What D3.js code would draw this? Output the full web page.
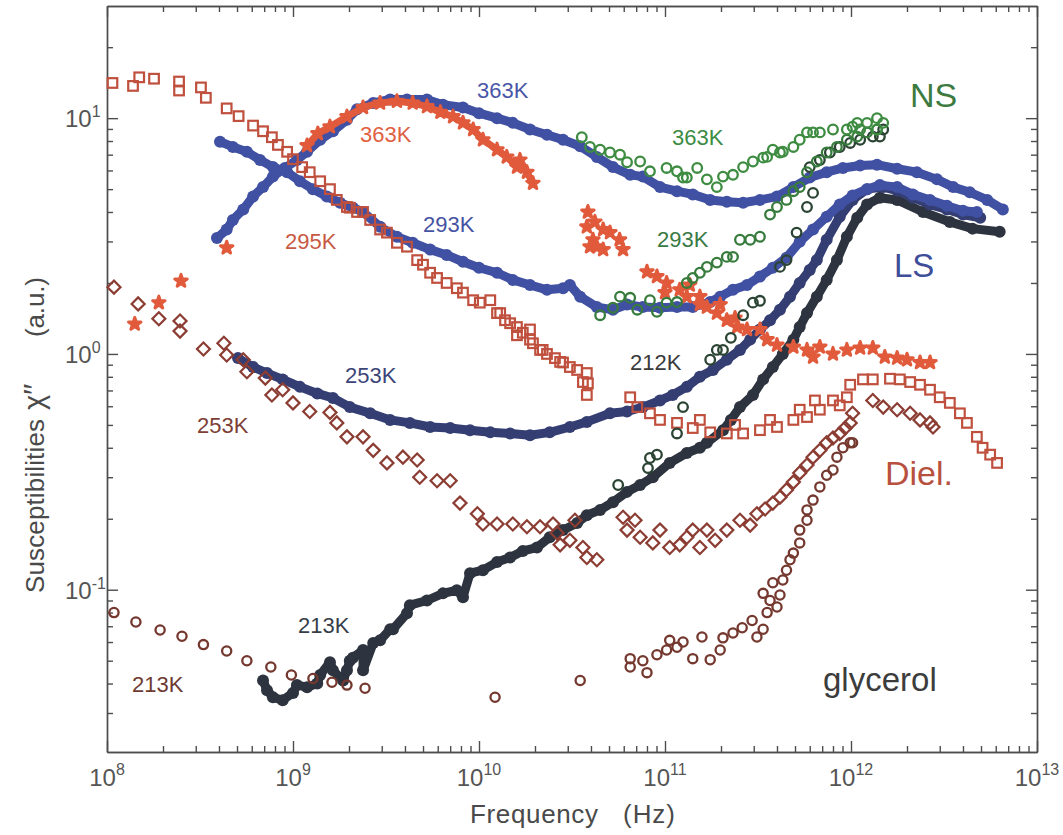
<!DOCTYPE html>
<html>
<head>
<meta charset="utf-8">
<script src="https://cdn.jsdelivr.net/npm/d3@7"></script>
<style>
  body { margin: 0; background: #fff; }
  svg { display: block; }
  text { font-family: "Liberation Sans", Arial, Helvetica, sans-serif; }
</style>
</head>
<body>
<svg id="chart" width="1063" height="835"></svg>
<script>
// ---- Light scattering (LS), filled circles: [frequency Hz, chi''] ----
const ls363 = [[3.9e8,3.1],[4.4e8,3.37],[4.75e8,3.7],[5.4e8,4.1],[6.1e8,4.65],[6.9e8,5.1],[7.8e8,5.65],[9.05e8,6.15],[1.05e9,6.65],[1.19e9,7.2],[1.4e9,8.1],[1.64e9,8.8],[1.95e9,9.85],[2.21e9,10.9],[2.7e9,11.6],[3.33e9,12.0],[4.1e9,12.0],[5.25e9,12.0],[6.4e9,11.4],[8.2e9,11.1],[1.0e10,10.5],[1.25e10,10.0],[1.52e10,9.55],[1.88e10,8.95],[2.32e10,8.5],[2.83e10,8.1],[3.5e10,7.6],[4.3e10,6.85],[5.25e10,6.2],[6.5e10,5.75],[7.6e10,5.65],[9.4e10,5.1],[1.16e11,4.9],[1.41e11,4.75],[1.75e11,4.5],[2.15e11,4.42],[2.63e11,4.38],[3.24e11,4.5],[4.0e11,4.65],[4.9e11,5.1],[6.0e11,5.6],[7.4e11,5.9],[9.05e11,6.15],[1.12e12,6.3],[1.38e12,6.35],[1.77e12,6.1],[2.26e12,5.9],[2.9e12,5.5],[3.54e12,5.1],[4.35e12,4.85],[5.4e12,4.5],[6.55e12,4.1]];
const ls293 = [[4.05e8,7.95],[4.75e8,7.55],[5.65e8,7.2],[6.65e8,6.65],[7.8e8,6.2],[9.3e8,5.9],[1.09e9,5.4],[1.28e9,5.0],[1.52e9,4.65],[1.79e9,4.38],[2.1e9,4.17],[2.38e9,4.0],[2.94e9,3.46],[3.62e9,3.14],[4.4e9,2.96],[5.46e9,2.77],[6.7e9,2.63],[8.2e9,2.46],[1.0e10,2.32],[1.25e10,2.21],[1.52e10,2.06],[1.88e10,1.96],[2.32e10,1.87],[2.83e10,1.9],[3.08e10,1.96],[3.5e10,1.75],[4.3e10,1.58],[5.25e10,1.54],[6.25e10,1.62],[7.6e10,1.58],[9.4e10,1.57],[1.16e11,1.58],[1.41e11,1.58],[1.75e11,1.66],[1.98e11,1.75],[2.32e11,1.87],[2.76e11,1.96],[3.24e11,2.13],[3.8e11,2.32],[4.5e11,2.56],[5.3e11,2.99],[6.25e11,3.37],[7.4e11,3.82],[8.7e11,4.3],[1.02e12,4.7],[1.22e12,5.0],[1.43e12,5.2],[1.77e12,5.1],[2.15e12,4.75],[2.66e12,4.5],[3.28e12,4.25],[4.0e12,4.05],[4.75e12,4.0]];
const ls253 = [[5.06e8,0.96],[6.1e8,0.88],[7.25e8,0.83],[8.8e8,0.78],[1.09e9,0.725],[1.35e9,0.68],[1.64e9,0.65],[2.02e9,0.595],[2.6e9,0.56],[3.33e9,0.525],[4.25e9,0.51],[5.46e9,0.49],[7.0e9,0.485],[8.95e9,0.475],[1.15e10,0.465],[1.47e10,0.46],[1.88e10,0.452],[2.4e10,0.465],[3.08e10,0.49],[3.8e10,0.515],[5.06e10,0.56],[6.25e10,0.57],[7.6e10,0.595],[9.4e10,0.635],[1.1e11,0.67],[1.31e11,0.725],[1.54e11,0.80],[1.81e11,0.855],[2.15e11,0.945],[2.53e11,1.04],[2.87e11,1.15],[3.24e11,1.27],[3.67e11,1.39],[4.15e11,1.54],[4.7e11,1.75],[5.3e11,2.0],[6.0e11,2.27],[6.55e11,2.5],[7.4e11,3.05],[8.7e11,3.82],[1.02e12,4.5],[1.22e12,5.0],[1.49e12,5.1],[1.77e12,4.93],[2.15e12,4.6],[2.66e12,4.3],[3.28e12,4.1],[4.0e12,3.9],[4.95e12,3.78]];
const ls213 = [[6.9e8,0.0412],[7.25e8,0.0375],[7.8e8,0.035],[8.8e8,0.034],[1.0e9,0.0365],[1.05e9,0.0394],[1.19e9,0.0386],[1.35e9,0.040],[1.4e9,0.0435],[1.58e9,0.0493],[1.64e9,0.0455],[1.86e9,0.0412],[1.95e9,0.0455],[2.02e9,0.050],[2.1e9,0.0515],[2.38e9,0.0555],[2.38e9,0.0455],[2.7e9,0.0595],[2.94e9,0.061],[3.33e9,0.068],[3.45e9,0.068],[4.1e9,0.0795],[4.25e9,0.086],[5.25e9,0.090],[6.4e9,0.0965],[7.6e9,0.0995],[8.2e9,0.093],[8.95e9,0.1175],[1.05e10,0.121],[1.25e10,0.131],[1.47e10,0.137],[1.72e10,0.146],[2.05e10,0.151],[2.4e10,0.167],[2.83e10,0.179],[3.37e10,0.192],[3.8e10,0.207],[4.48e10,0.218],[5.25e10,0.235],[6.25e10,0.26],[7.35e10,0.278],[8.6e10,0.30],[1.06e11,0.345],[1.31e11,0.38],[1.54e11,0.40],[1.68e11,0.42],[2.05e11,0.475],[2.26e11,0.525],[2.53e11,0.595],[2.97e11,0.67],[3.37e11,0.78],[3.8e11,0.88],[4.3e11,1.0],[4.9e11,1.15],[5.3e11,1.3],[5.8e11,1.49],[6.55e11,1.75],[7.4e11,2.06],[8.4e11,2.5],[9.5e11,3.14],[1.08e12,3.78],[1.22e12,4.3],[1.43e12,4.6],[1.77e12,4.5],[2.44e12,4.0],[3.4e12,3.63],[4.5e12,3.4],[6.3e12,3.3]];

// ---- Neutron scattering (NS), open circles ----
const ns363 = [[3.57e10,8.3],[3.95e10,7.55],[4.48e10,7.35],[5.06e10,7.15],[5.73e10,7.0],[6.25e10,6.5],[7.35e10,6.55],[8.3e10,5.95],[1.02e11,6.15],[1.16e11,5.95],[1.25e11,5.6],[1.31e11,5.6],[1.49e11,6.15],[1.68e11,5.5],[1.9e11,5.1],[2.05e11,5.65],[2.32e11,5.75],[2.63e11,6.2],[2.97e11,6.55],[3.37e11,6.8],[3.54e11,6.85],[3.8e11,7.35],[4.15e11,7.15],[4.3e11,7.2],[4.9e11,7.55],[5.3e11,8.1],[5.8e11,8.7],[6.25e11,8.7],[6.8e11,8.7],[8.0e11,8.95],[9.5e11,8.95],[1.02e12,9.2],[1.08e12,9.55],[1.12e12,8.95],[1.22e12,9.55],[1.38e12,10.0],[1.38e12,8.95],[1.49e12,9.55]];
const ns293 = [[4.48e10,1.46],[5.25e10,1.57],[5.73e10,1.75],[6.5e10,1.73],[7.1e10,1.54],[8.3e10,1.69],[9.05e10,1.51],[1.02e11,1.65],[1.16e11,1.66],[1.31e11,2.0],[1.41e11,2.1],[1.54e11,2.21],[1.68e11,2.34],[1.9e11,2.44],[2.15e11,2.58],[2.32e11,2.58],[2.53e11,3.05],[2.87e11,3.05],[3.24e11,3.14],[3.67e11,3.9],[4.0e11,4.2],[4.5e11,4.5],[4.9e11,4.9],[5.3e11,5.1],[5.8e11,5.9],[6.55e11,6.55],[7.4e11,7.15],[8.4e11,7.55],[9.5e11,8.1],[1.08e12,8.35],[1.22e12,8.7],[1.38e12,8.95]];
const ns212 = [[5.6e10,0.278],[8.1e10,0.328],[8.3e10,0.362],[9.05e10,0.374],[1.16e11,0.46],[1.25e11,0.595],[1.75e11,0.945],[1.9e11,1.04],[2.05e11,1.04],[2.26e11,1.17],[2.63e11,1.46],[2.97e11,1.65],[3.24e11,1.68],[4.15e11,2.34],[4.5e11,2.5],[5.1e11,3.27],[5.8e11,4.2],[6.25e11,4.82],[6.0e11,6.2],[6.8e11,6.65],[7.7e11,7.15],[8.7e11,7.55],[9.9e11,7.85],[1.12e12,8.1],[1.31e12,8.35],[1.43e12,8.35],[1.49e12,8.95]];

// ---- Dielectric loss (Diel.) ----
const diel363Low  = [[1.41e8,1.34],[1.9e8,1.65],[2.5e8,2.04],[4.4e8,2.82]];
const diel363Main = [[1.19e9,7.65],[1.36e9,8.6],[1.58e9,9.2],[1.95e9,10.15],[2.38e9,11.1],[2.94e9,11.6],[3.62e9,11.8],[4.4e9,11.6],[5.25e9,11.2],[6.2e9,10.6],[7.25e9,10.15],[8.2e9,9.55],[9.3e9,8.95],[1.05e10,8.1],[1.25e10,7.35],[1.41e10,6.85],[1.6e10,6.2],[1.66e10,6.65],[1.81e10,5.9],[1.95e10,5.3]];
const diel363Mid  = [[3.8e10,3.46],[3.85e10,4.0],[3.95e10,2.85],[4.1e10,3.05],[4.2e10,3.63],[4.3e10,2.85],[4.65e10,3.37],[4.65e10,2.77],[5.06e10,3.27],[5.7e10,3.05],[5.95e10,2.77]];
const diel363High = [[8.0e10,2.23],[9.05e10,2.13],[1.0e11,1.82],[1.02e11,2.0],[1.2e11,1.87],[1.31e11,1.75],[1.36e11,1.96],[1.54e11,1.75],[1.54e11,1.62],[1.68e11,1.58],[1.9e11,1.49],[1.98e11,1.62],[2.15e11,1.39],[2.38e11,1.42],[2.44e11,1.30],[2.76e11,1.27],[3.24e11,1.27],[3.54e11,1.15],[4.0e11,1.09],[4.9e11,1.07],[5.8e11,1.04],[6.25e11,0.97],[6.8e11,1.07],[8.0e11,1.0],[9.5e11,1.04],[1.12e12,1.06],[1.31e12,1.06],[1.52e12,0.97],[1.77e12,0.96],[2.0e12,0.945],[2.35e12,0.92],[2.66e12,0.92]];
const diel295 = [[1.07e8,14.1],[1.38e8,13.7],[1.49e8,14.9],[1.79e8,14.7],[2.44e8,14.3],[2.44e8,13.1],[3.2e8,13.5],[3.4e8,12.2],[4.4e8,11.0],[5.1e8,10.2],[6.1e8,9.3],[6.9e8,8.8],[7.7e8,8.3],[8.3e8,7.7],[9.3e8,7.2],[1.0e9,6.7],[1.12e9,6.2],[1.23e9,5.9],[1.4e9,5.4],[1.58e9,5.0],[1.72e9,4.5],[1.95e9,4.2],[2.02e9,4.17],[2.21e9,4.0],[2.38e9,4.0],[2.6e9,3.7],[2.94e9,3.37],[3.2e9,3.27],[3.62e9,2.96],[4.1e9,2.85],[4.65e9,2.5],[5.0e9,2.39],[5.46e9,2.21],[5.95e9,2.1],[6.7e9,2.0],[7.6e9,1.9],[8.2e9,1.82],[9.3e9,1.69],[1.01e10,1.65],[1.15e10,1.69],[1.25e10,1.49],[1.3e10,1.49],[1.38e10,1.39],[1.47e10,1.35],[1.6e10,1.2],[1.6e10,1.3],[1.72e10,1.23],[1.88e10,1.27],[1.88e10,1.15],[1.95e10,1.11],[2.13e10,1.04],[2.2e10,1.04],[2.32e10,1.0],[2.56e10,0.96],[2.73e10,0.925],[2.83e10,0.92],[3.08e10,0.88],[3.37e10,0.855],[3.62e10,0.76],[3.8e10,0.83],[3.85e10,0.75],[3.8e10,0.67],
  [6.5e10,0.655],[7.1e10,0.595],[8.3e10,0.56],[9.4e10,0.525],[1.16e11,0.51],[1.41e11,0.485],[1.54e11,0.525],[1.75e11,0.465],[2.15e11,0.46],[2.38e11,0.5],[2.63e11,0.46],[3.24e11,0.475],[3.67e11,0.525],[4.0e11,0.49],[4.9e11,0.525],[5.3e11,0.58],[5.8e11,0.54],[6.4e11,0.635],[6.8e11,0.58],[8.0e11,0.635],[8.7e11,0.605],[9.5e11,0.655],[9.9e11,0.74],[1.16e12,0.78],[1.31e12,0.78],[1.62e12,0.785],[1.83e12,0.78],[2.08e12,0.76],[2.35e12,0.74],[2.66e12,0.705],[3.0e12,0.655],[3.4e12,0.62],[3.85e12,0.56],[4.2e12,0.51],[4.75e12,0.445],[5.1e12,0.40],[5.6e12,0.374],[6.1e12,0.345]];
const diel253 = [[1.09e8,1.92],[1.47e8,1.63],[1.9e8,1.41],[2.47e8,1.38],[2.47e8,1.25],[3.3e8,1.05],[4.25e8,1.11],[4.4e8,0.99],[5.4e8,0.945],[5.65e8,0.84],[7.1e8,0.79],[7.7e8,0.67],[8.8e8,0.705],[1.0e9,0.62],[1.23e9,0.57],[1.58e9,0.565],[1.72e9,0.51],[1.95e9,0.445],[2.38e9,0.445],[2.7e9,0.39],[3.2e9,0.345],[3.9e9,0.365],[4.65e9,0.355],[4.8e9,0.30],[5.95e9,0.29],[7.0e9,0.29],[7.9e9,0.233],[9.8e9,0.21],[1.05e10,0.19],[1.25e10,0.19],[1.52e10,0.19],[1.81e10,0.185],[2.13e10,0.185],[2.5e10,0.19],[2.63e10,0.174],[2.73e10,0.155],[3.08e10,0.162],[3.28e10,0.197],[3.62e10,0.151],[3.8e10,0.137],[4.3e10,0.134],
  [5.95e10,0.203],[6.25e10,0.179],[6.9e10,0.197],[7.35e10,0.167],[8.6e10,0.158],[9.4e10,0.179],[1.06e11,0.151],[1.2e11,0.155],[1.31e11,0.167],[1.41e11,0.179],[1.54e11,0.151],[1.68e11,0.179],[1.86e11,0.162],[2.15e11,0.179],[2.53e11,0.197],[2.87e11,0.188],[3.12e11,0.21],[3.45e11,0.22],[3.8e11,0.233],[4.15e11,0.247],[4.5e11,0.265],[4.9e11,0.286],[5.3e11,0.313],[5.8e11,0.338],[6.25e11,0.365],[6.8e11,0.39],[7.4e11,0.42],[8.0e11,0.44],[8.7e11,0.46],[9.3e11,0.485],[9.9e11,0.51],[1.02e12,0.56],[1.31e12,0.635],[1.49e12,0.595],[1.77e12,0.58],[2.08e12,0.56],[2.35e12,0.525],[2.66e12,0.51],[2.76e12,0.49]];
const diel213 = [[1.09e8,0.080],[1.43e8,0.073],[1.93e8,0.0675],[2.53e8,0.0635],[3.3e8,0.0585],[4.4e8,0.055],[5.65e8,0.050],[7.6e8,0.047],[9.8e8,0.0435],[1.28e9,0.042],[1.62e9,0.0405],[1.95e9,0.0394],[2.44e9,0.0382],[1.22e10,0.035],[3.5e10,0.0412],
  [6.5e10,0.051],[6.5e10,0.047],[7.6e10,0.050],[8.0e10,0.0445],[9.05e10,0.053],[1.02e11,0.0555],[1.06e11,0.061],[1.16e11,0.057],[1.25e11,0.060],[1.41e11,0.051],[1.58e11,0.063],[1.75e11,0.0505],[1.98e11,0.0555],[2.05e11,0.0625],[2.32e11,0.0655],[2.6e11,0.069],[2.94e11,0.074],[3.12e11,0.063],[3.37e11,0.068],[3.54e11,0.080],[3.37e11,0.0965],[3.67e11,0.090],[3.8e11,0.107],[4.0e11,0.0845],[4.15e11,0.095],[4.3e11,0.11],[4.5e11,0.121],[4.7e11,0.134],[4.9e11,0.143],[5.3e11,0.158],[5.3e11,0.179],[5.8e11,0.197],[5.8e11,0.218],[6.25e11,0.24],[6.8e11,0.273],[7.4e11,0.306],[8.0e11,0.322],[8.4e11,0.365],[9.05e11,0.40],[9.9e11,0.42],[1.02e12,0.42]];

// ---- Axis tick labels ----
const xDecades = [8, 9, 10, 11, 12, 13];
const yDecades = [-1, 0, 1];

// ---- Scales ----
const x = d3.scaleLog().domain([1e8, 1e13]).range([107, 1037]);
const y = d3.scaleLog().domain([0.0205, 29.9]).range([752, 6]);

const svg = d3.select("#chart");
const plot = svg.append("g");

// frame and inward ticks on all four sides
const xMajor = xDecades.map(e => Math.pow(10, e));
const xMinor = [];
for (let e = 8; e < 13; e++) for (let m = 2; m <= 9; m++) xMinor.push(m * Math.pow(10, e));
const yMajor = yDecades.map(e => Math.pow(10, e));
const yMinor = [];
for (let e = -2; e <= 1; e++) for (let m = 2; m <= 9; m++) {
  const v = m * Math.pow(10, e);
  if (v > 0.0205 && v < 29.9) yMinor.push(v);
}
const axisColor = "#4d4d4d";
function frameAxis(gen, transform, values, size) {
  plot.append("g").attr("transform", transform)
    .call(gen.tickValues(values).tickSize(size).tickSizeOuter(0).tickFormat(""))
    .call(s => s.selectAll("line,path").attr("stroke", axisColor).attr("stroke-width", 1.4));
}
[[xMajor, -11], [xMinor, -6]].forEach(([v, s]) => {
  frameAxis(d3.axisBottom(x), "translate(0,752)", v, s);
  frameAxis(d3.axisTop(x), "translate(0,6)", v, s);
});
[[yMajor, -11], [yMinor, -6]].forEach(([v, s]) => {
  frameAxis(d3.axisLeft(y), "translate(107,0)", v, s);
  frameAxis(d3.axisRight(y), "translate(1037,0)", v, s);
});

// tick labels: 10 with superscript exponent
xDecades.forEach(e => {
  const t = plot.append("text").attr("x", x(Math.pow(10, e))).attr("y", 786)
    .attr("text-anchor", "middle").attr("font-size", 24).attr("fill", "#555");
  t.append("tspan").text("10");
  t.append("tspan").attr("font-size", 16).attr("dy", -11).text(e);
});
yDecades.forEach(e => {
  const t = plot.append("text").attr("x", 65).attr("y", y(Math.pow(10, e)) + 9)
    .attr("font-size", 24).attr("fill", "#555");
  t.append("tspan").text("10");
  t.append("tspan").attr("font-size", 16).attr("dy", -10).text(e);
});

// axis titles
const titleColor = "#4a4a4a";
plot.append("text").attr("x", 470).attr("y", 823).attr("font-size", 26).attr("fill", titleColor)
  .attr("textLength", 128).attr("lengthAdjust", "spacing").text("Frequency");
plot.append("text").attr("x", 623).attr("y", 823).attr("font-size", 26).attr("fill", titleColor)
  .attr("textLength", 52).attr("lengthAdjust", "spacing").text("(Hz)");
plot.append("text").attr("transform", "translate(44,593) rotate(-90)").attr("font-size", 26)
  .attr("fill", titleColor).attr("textLength", 174).attr("lengthAdjust", "spacing").text("Susceptibilities");
plot.append("text").attr("transform", "translate(44,410) rotate(-90)").attr("font-size", 29)
  .attr("fill", titleColor).text("χ′′");
plot.append("text").attr("transform", "translate(44,337) rotate(-90)").attr("font-size", 26)
  .attr("fill", titleColor).attr("textLength", 60).attr("lengthAdjust", "spacing").text("(a.u.)");

// ---- mark helpers ----
const px = d => x(d[0]), py = d => y(d[1]);
const line = d3.line().x(px).y(py);
function band(data, color, width) {
  plot.append("path").datum(data).attr("d", line).attr("fill", "none")
    .attr("stroke", color).attr("stroke-width", width)
    .attr("stroke-linejoin", "round").attr("stroke-linecap", "round");
}
function dots(data, color, r) {
  plot.append("g").selectAll("circle").data(data).join("circle")
    .attr("cx", px).attr("cy", py).attr("r", r).attr("fill", color);
}
function rings(data, color, r, sw) {
  plot.append("g").selectAll("circle").data(data).join("circle")
    .attr("cx", px).attr("cy", py).attr("r", r).attr("fill", "none")
    .attr("stroke", color).attr("stroke-width", sw);
}
function boxes(data, color, side, sw, angle) {
  plot.append("g").selectAll("rect").data(data).join("rect")
    .attr("x", -side / 2).attr("y", -side / 2).attr("width", side).attr("height", side)
    .attr("transform", d => `translate(${px(d)},${py(d)}) rotate(${angle})`)
    .attr("fill", "none").attr("stroke", color).attr("stroke-width", sw);
}
const starPath = d3.symbol().type(d3.symbolStar).size(48)();
function stars(data, color) {
  plot.append("g").selectAll("path").data(data).join("path")
    .attr("d", starPath).attr("transform", d => `translate(${px(d)},${py(d)})`)
    .attr("fill", color).attr("stroke", color).attr("stroke-width", 3)
    .attr("stroke-linejoin", "round");
}

// ---- colours ----
const cLS = "#4050a2", cLS253 = "#343e72", cLS213 = "#2d343f";
const cNS363 = "#3d8c41", cNS293 = "#377c3c", cNS212 = "#2b4433";
const cD363 = "#e05a3b", cD295 = "#c0503e", cD253 = "#8c3d33", cD213 = "#74382f";

// ---- LS ----
[[ls213, cLS213], [ls253, cLS253], [ls293, cLS], [ls363, cLS]].forEach(([d, c]) => {
  band(d, c, 9);
  dots(d, c, 6);
});

// ---- Diel. ----
rings(diel213, cD213, 4.6, 2.3);
boxes(diel253, cD253, 9.2, 2.2, 45);
boxes(diel295, cD295, 9.6, 2.2, 0);
band(diel363Main, cD363, 7);
[diel363Low, diel363Main, diel363Mid, diel363High].forEach(d => stars(d, cD363));

// ---- NS ----
rings(ns212, cNS212, 4.8, 2.3);
rings(ns293, cNS293, 4.8, 2.3);
rings(ns363, cNS363, 4.8, 2.3);

// ---- curve annotations ----
const notes = [
  { t: "363K", x: 477, y: 98,  c: "#4a56a8", s: 22 },
  { t: "363K", x: 360, y: 142, c: "#e0603f", s: 22 },
  { t: "295K", x: 285, y: 249, c: "#c85a44", s: 22 },
  { t: "293K", x: 423, y: 232, c: "#4653a2", s: 22 },
  { t: "253K", x: 345, y: 383, c: "#3d4578", s: 22 },
  { t: "253K", x: 197, y: 433, c: "#7d3f35", s: 22 },
  { t: "213K", x: 132, y: 692, c: "#6e3a32", s: 22 },
  { t: "213K", x: 298, y: 633, c: "#383e48", s: 22 },
  { t: "212K", x: 630, y: 370, c: "#3a3a3a", s: 22 },
  { t: "363K", x: 672, y: 145, c: "#3c8c44", s: 22 },
  { t: "293K", x: 657, y: 247, c: "#3a7a45", s: 22 },
  { t: "NS",   x: 910, y: 107, c: "#3c7a40", s: 34 },
  { t: "LS",   x: 894, y: 277, c: "#3f4e98", s: 33 },
  { t: "Diel.",x: 885, y: 485, c: "#b85040", s: 34 },
  { t: "glycerol", x: 823, y: 691, c: "#3c3c3c", s: 33 }
];
plot.append("g").selectAll("text").data(notes).join("text")
  .attr("x", d => d.x).attr("y", d => d.y).attr("font-size", d => d.s)
  .attr("fill", d => d.c).text(d => d.t);
</script>
</body>
</html>
